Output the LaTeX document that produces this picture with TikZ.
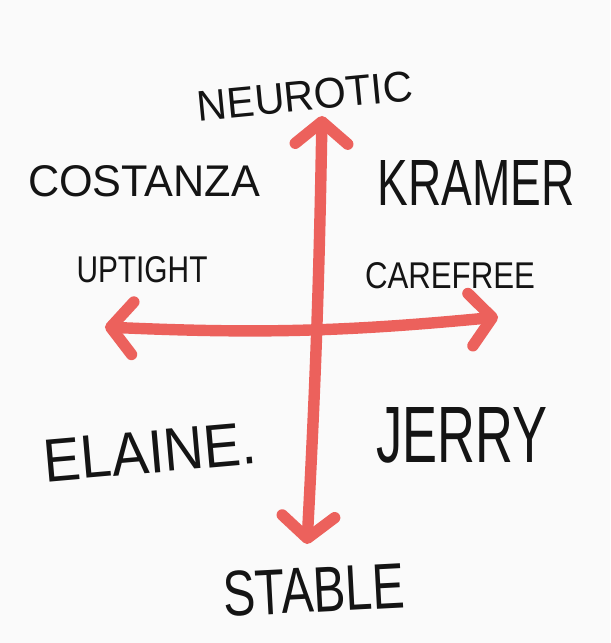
\documentclass[tikz,border=0pt]{standalone}
\usepackage{fontspec}
\setmainfont{Liberation Sans}
\usetikzlibrary{arrows.meta}
\definecolor{axisred}{HTML}{EC615C}
\definecolor{paper}{HTML}{FAFAFA}
\newcommand{\scribble}[3]{\resizebox{#1cm}{#2cm}{#3}}

\begin{document}
\begin{tikzpicture}[x=0.02cm, y=-0.02cm,
  barb/.tip={Straight Barb[length=0.44cm, width=1.05cm, round]},
  axis/.style={axisred, line width=6.5pt, line cap=round, barb-barb},
  word/.style={inner sep=0pt, text=black!92}]
  \fill[paper] (0,0) rectangle (610,643);
  % the four poles
  \node[word, rotate=5.5] (neurotic) at (305,96) {\scribble{4.32}{0.6}{NEUROTIC}};
  \node[word, rotate=3] (stable) at (314,590) {\scribble{3.64}{0.9}{STABLE}};
  \node[word] (uptight) at (142,270) {\scribble{2.62}{0.52}{UPTIGHT}};
  \node[word] (carefree) at (450,276) {\scribble{3.4}{0.52}{CAREFREE}};
  % the four quadrants
  \node[word] (costanza) at (144,181) {\scribble{4.64}{0.62}{COSTANZA}};
  \node[word] (kramer) at (476,183) {\scribble{3.94}{0.9}{KRAMER}};
  \node[word, rotate=5] (elaine) at (150,452) {\scribble{4.26}{0.84}{ELAINE.}};
  \node[word] (jerry) at (462,435) {\scribble{3.42}{1.1}{JERRY}};
  % axes
  \coordinate (leftend) at (105,327);
  \coordinate (rightend) at (498,317);
  \coordinate (topend) at (322,116);
  \coordinate (botend) at (307,544);
  \draw[axis] (leftend) to[bend right=4] (rightend);
  \draw[axis] (topend) to[bend left=1] (botend);
\end{tikzpicture}
\end{document}
